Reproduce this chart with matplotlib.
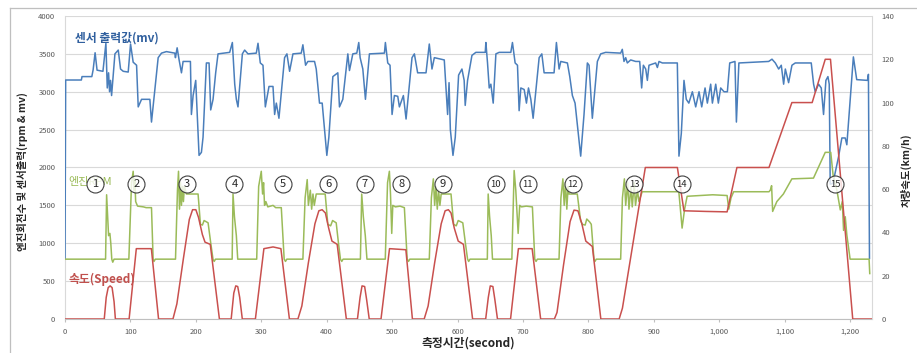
import matplotlib
matplotlib.use("Agg")
import matplotlib.pyplot as plt
from matplotlib.lines import Line2D
from matplotlib.ticker import FuncFormatter, MultipleLocator

plt.rcParams['font.family'] = ['Noto Sans CJK KR', 'DejaVu Sans']

# ---------------- data ----------------
# sensor output (mV), left axis
sensor_time = [0, 1, 25, 26, 41, 43, 46, 49, 58, 62.5, 64.6, 66.6, 68.1, 69.6, 71.2, 76.3, 81.4, 84.9, 89, 96.6,
               100.2, 104.2, 109.4, 111.9, 117, 129.7, 132.2, 135.8, 142.4, 147.5, 155, 167.8, 168.8, 171.4, 174.4, 178,
               180.5, 191.7, 193.2, 195.8, 199.8, 204.9, 208.5, 211, 216.1, 220.2, 222.7, 226.3, 230.3, 233.9, 251.7,
               255.8, 257.8, 259.4, 261.9, 264.4, 271.1, 274.6, 279.7, 292.4, 295, 298.5, 302.6, 306.2, 311.8, 317.9,
               320.4, 323, 327, 335.6, 339.2, 343.3, 348.4, 361.1, 363.6, 367.7, 371.2, 381.4, 384, 389, 393.1, 400.2,
               403.3, 409.4, 417, 419.5, 424.6, 432.3, 434.8, 439.9, 446, 449, 451.1, 455.2, 459.2, 465.3, 488.2, 489.7,
               493.3, 496.8, 499.9, 503.5, 508.6, 511.1, 517.2, 521.3, 530.4, 534, 539, 551.8, 556.8, 560.9, 564.5,
               579.7, 584.8, 587, 589, 593, 596.5, 601.6, 606.7, 610.1, 611.7, 615.3, 622, 628, 642.3, 643.3, 645.8,
               648.4, 650.9, 654.5, 658.6, 663.6, 681.4, 683.9, 688, 691.6, 694.1, 696.7, 701.8, 705.3, 708.4, 712,
               715.5, 724.7, 728.8, 732.3, 747.5, 751.1, 755.2, 757.8, 767.9, 771.5, 775.5, 779.6, 788.2, 793.3, 798.4,
               801, 806, 813.7, 818.8, 826.4, 849.3, 851.8, 854.4, 857, 859.5, 864.6, 872.3, 878.4, 881.4, 884, 887.6,
               890.1, 892.6, 902.8, 905.4, 907.9, 913, 935.9, 938.4, 942, 946.1, 949.6, 953.5, 958.9, 964, 969.1, 973.2,
               978.3, 981.8, 986.9, 989.5, 994.6, 998.6, 1002.2, 1007.3, 1012.4, 1016, 1024, 1026.2, 1030, 1075.5,
               1080.6, 1085.7, 1090.8, 1094.8, 1098.4, 1101, 1106, 1111.1, 1116.2, 1140.6, 1144.2, 1146.7, 1151.8,
               1155.9, 1159.4, 1163, 1166.1, 1168.1, 1169.6, 1173.7, 1182.3, 1187.4, 1192.5, 1195, 1198.9, 1202.5,
               1205, 1210.1, 1226.5, 1228, 1229.6]
sensor_mv = [800, 3155, 3155, 3200, 3200, 3290, 3515, 3285, 3270, 3640, 3050, 3250, 3000, 3150, 2950, 3500, 3550, 3300,
             3270, 3260, 3630, 3390, 3350, 2800, 2900, 2900, 2600, 2900, 3450, 3510, 3530, 3510, 3450, 3580, 3420, 3250,
             3400, 3400, 2700, 2950, 3150, 2160, 2200, 2400, 3380, 3380, 2760, 2900, 3250, 3500, 3520, 3650, 3350, 3100,
             2900, 2800, 3500, 3550, 3500, 3510, 3640, 3380, 3350, 2800, 3070, 3070, 2700, 2850, 2650, 3450, 3500, 3270,
             3500, 3510, 3620, 3350, 3400, 3400, 3300, 2850, 2850, 2160, 2400, 3200, 3250, 2800, 2900, 3500, 3280, 3500,
             3510, 3650, 3450, 3300, 2900, 3500, 3510, 3650, 3380, 3350, 2700, 2950, 2940, 2800, 2950, 2640, 3450, 3500,
             3250, 3250, 3630, 3300, 3450, 3420, 2700, 3120, 2500, 2160, 2400, 3220, 3300, 3150, 2820, 3150, 3480, 3520,
             3520, 3650, 3380, 3050, 3100, 2850, 3500, 3520, 3520, 3650, 3380, 3350, 2750, 3050, 3030, 2850, 3050, 2900,
             2650, 3450, 3500, 3250, 3250, 3650, 3300, 3400, 3380, 3200, 2950, 2850, 2150, 2700, 3380, 3350, 2650, 3400,
             3500, 3520, 3510, 3560, 3400, 3450, 3380, 3420, 3400, 3400, 3050, 3350, 3300, 3150, 3350, 3380, 3320, 3400,
             3380, 3380, 2150, 2450, 3150, 2900, 2850, 3000, 2800, 3000, 2800, 3050, 2850, 3100, 2850, 3100, 2850, 3050,
             3000, 3000, 3380, 3400, 2600, 3380, 3400, 3430, 3380, 3300, 3350, 3100, 3300, 3120, 3350, 3380, 3380, 3100,
             3000, 3100, 3050, 2700, 3150, 3200, 3100, 1780, 1790, 2140, 2390, 2390, 2300, 2760, 3200, 3460, 3160, 3150,
             3230, 800]

# engine speed (rpm), left axis
rpm_time = [0, 62, 63.6, 66.6, 68.6, 70, 71.5, 73, 75,
            97.6, 101.7, 104.2, 105.5, 106.7, 108, 110.9, 120, 124, 132.2, 134.7, 136, 138,
            168.9, 171.9, 173.5, 175, 176.5, 178, 179.5, 181, 182.5, 185.6, 203.4, 207, 210, 212.6, 218.7, 222.8, 226.2,
            228, 230,
            255.5, 256.8, 259, 261.9, 264,
            293, 296, 300, 302, 303.5, 305, 307, 310, 318, 322, 330.6, 335, 337, 339,
            363.6, 367, 370.2, 372, 375, 377, 379, 381, 384, 397.7, 401.7, 406, 409, 414.5, 418, 421, 423, 425,
            451.5, 453.5, 456, 459, 461.5,
            489.5, 493, 495.8, 497.5, 499.4, 501, 505, 512, 518.7, 523, 525, 527,
            556.8, 560, 563, 565, 567, 569, 571, 573, 575, 590, 594, 598, 601, 608, 612, 615.3, 617, 619,
            645.5, 646.8, 649, 651.5, 653.4,
            683, 686.5, 689, 692.6, 695, 697.6, 705, 714.4, 718, 720, 722,
            755.1, 758, 761, 763, 765, 767, 769, 770.4, 783, 788, 790.7, 795, 797.5, 802, 804.4, 808.5, 810, 812,
            849.3, 852, 855, 857, 860, 862, 865, 867, 870, 872, 875, 877.2, 882.2, 938.2, 943.2, 947, 950.9, 970, 990,
            1012, 1014.5, 1018, 1022, 1076, 1078, 1080, 1081.6, 1088, 1098, 1111, 1144, 1162, 1170.4, 1174, 1179.8,
            1185, 1188, 1190, 1192.6, 1195, 1200, 1229, 1230]
rpm_value = [790, 790, 1640, 1100, 1130, 1000, 790, 750, 790,
             790, 1800, 1950, 1700, 1850, 1550, 1490, 1480, 1470, 1470, 790, 760, 790,
             790, 1700, 1950, 1450, 1800, 1500, 1750, 1550, 1750, 1650, 1650, 1250, 1240, 1300, 1270, 1000, 790,
             760, 790,
             790, 1650, 1350, 1100, 790,
             790, 1750, 1950, 1650, 1800, 1500, 1550, 1480, 1500, 1470, 1470, 790, 760, 790,
             790, 1600, 1840, 1500, 1700, 1450, 1650, 1500, 1650, 1650, 1250, 1230, 1300, 1270, 1000, 790, 760, 790,
             790, 1650, 1350, 1100, 790,
             790, 1800, 1950, 1650, 1130, 1500, 1480, 1490, 1470, 790, 760, 790,
             790, 1600, 1850, 1500, 1750, 1450, 1700, 1500, 1650, 1650, 1250, 1230, 1300, 1270, 1000, 790, 760, 790,
             790, 1650, 1350, 1100, 790,
             790, 1960, 1700, 1130, 1500, 1480, 1490, 1480, 790, 760, 790,
             790, 1600, 1850, 1500, 1800, 1450, 1750, 1650, 1650, 1300, 1250, 1240, 1320, 1280, 1250, 790, 760, 790,
             790, 1600, 1850, 1500, 1800, 1450, 1750, 1480, 1800, 1500, 1700, 1550, 1680, 1680, 1200, 1450, 1620, 1630,
             1640, 1630, 1450, 1600, 1680, 1680, 1700, 1760, 1420, 1550, 1650, 1850, 1860, 2200, 2200, 1900, 1700,
             1440, 1550, 1170, 1350, 1110, 790, 790, 600]

# vehicle speed (km/h), right axis
speed_time = [0, 60, 63, 66, 69, 72, 75, 77,
              98, 109, 132, 143,
              165, 171, 181, 190, 195, 200, 204, 210, 214, 222, 236,
              254, 258, 261, 264, 267, 271,
              291, 304, 318, 330, 343,
              356, 362, 372, 382, 388, 393, 398, 403, 408, 416, 430,
              447, 451, 454, 458, 461, 465,
              483, 496, 521, 531,
              549, 555, 565, 575, 581, 586, 590, 595, 601, 609, 623,
              643, 647, 650, 654, 657, 661,
              681, 693, 714, 727,
              748, 752, 762, 772, 778, 784, 790, 796, 800, 806, 819,
              847, 852, 887, 936, 946, 980, 1012, 1027, 1076, 1111, 1142, 1162, 1170, 1204, 1233]
speed_kmh = [0, 0, 10, 14.5, 15.3, 14.5, 8, 0,
             0, 32.5, 32.5, 0,
             0, 7, 28, 46, 50.5, 50.5, 47, 39, 35.5, 34.5, 0,
             0, 12, 15.3, 15, 10, 0,
             0, 32.5, 33.3, 32.5, 0,
             0, 6, 26, 44, 50, 50.5, 49, 42, 36, 34.5, 0,
             0, 10, 15.3, 15, 9, 0,
             0, 32.5, 32, 0,
             0, 6, 26, 44, 50, 50.5, 49, 42, 36, 34.5, 0,
             0, 10, 15.3, 15, 9, 0,
             0, 32.5, 32.5, 0,
             0, 3, 25, 45, 50.3, 50, 44, 36, 35, 33.5, 0,
             0, 5, 70, 70, 50, 49.7, 49.5, 70, 70, 100, 100, 120, 120, 0, 0]

# circled test-section numbers
section_labels = ['1', '2', '3', '4', '5', '6', '7', '8', '9', '10', '11', '12', '13', '14', '15']
section_time = [46, 109, 186, 259, 333, 402, 458, 514, 577, 658, 707, 776, 870, 943, 1177]
section_level = 1782

x_ticks = list(range(0, 1201, 100))

# ---------------- figure ----------------
W, H = 917, 353
fig = plt.figure(figsize=(W / 100, H / 100), dpi=100)
fig.patch.set_facecolor('white')

# outer chart frame
frame_kw = dict(transform=fig.transFigure, color='#bfbfbf', lw=0.9)
fig.add_artist(Line2D([10 / W, 10 / W], [1 - 8 / H, 0], **frame_kw))
fig.add_artist(Line2D([10 / W, 1], [1 - 8 / H, 1 - 8 / H], **frame_kw))

left_px, right_px, top_px, bot_px = 65, 871.7, 16, 319
ax = fig.add_axes([left_px / W, 1 - bot_px / H, (right_px - left_px) / W, (bot_px - top_px) / H])
ax2 = ax.twinx()

blue = '#4a7ebb'
green = '#9bbb59'
red = '#c9504e'
tick_col = '#595959'

ax.plot(sensor_time, sensor_mv, color=blue, lw=1.1, zorder=3)
ax.plot(rpm_time, rpm_value, color=green, lw=1.1, zorder=4)
ax2.plot(speed_time, speed_kmh, color=red, lw=1.1, zorder=3)

ax.set_xlim(0, 1233)
ax.set_ylim(0, 4000)
ax2.set_ylim(0, 140)
ax.yaxis.set_major_locator(MultipleLocator(500))
ax2.yaxis.set_major_locator(MultipleLocator(20))
ax.set_xticks(x_ticks)
ax.xaxis.set_major_formatter(FuncFormatter(lambda v, p: f'{int(v):,}'))

ax.grid(axis='y', color='#d9d9d9', lw=0.8)
ax.set_axisbelow(True)

for a in (ax, ax2):
    for s in a.spines.values():
        s.set_visible(False)
ax.spines['bottom'].set_visible(True)
ax.spines['bottom'].set_color('#bfbfbf')
ax2.spines['right'].set_visible(True)
ax2.spines['right'].set_color('#d9d9d9')
ax.spines['left'].set_visible(True)
ax.spines['left'].set_color('#d9d9d9')

ax.tick_params(axis='y', length=0, pad=7, labelsize=5.5, labelcolor=tick_col)
ax.tick_params(axis='x', length=2.5, color='#bfbfbf', pad=4, labelsize=5.5, labelcolor=tick_col)
ax2.tick_params(axis='y', length=0, pad=7, labelsize=5.5, labelcolor=tick_col)

# series captions
ax2.text(15, 3709, '센서 출력값(mv)', transform=ax.transData, color='#2f5f9e', fontsize=8.5,
         fontweight='bold', va='center', ha='left', zorder=6)
ax2.text(5, 1812, '엔진RPM', transform=ax.transData, color=green, fontsize=8,
         va='center', ha='left', zorder=6)
ax2.text(5, 524, '속도(Speed)', transform=ax.transData, color='#c0504d', fontsize=8.5,
         fontweight='bold', va='center', ha='left', zorder=6)

# circled section markers
ax2.scatter(section_time, [section_level] * len(section_time), transform=ax.transData, s=150,
            facecolor=(1, 1, 1, 0.8), edgecolor='#404040', linewidth=0.8, zorder=7)
for lab, t in zip(section_labels, section_time):
    ax2.text(t, section_level, lab, transform=ax.transData, ha='center', va='center',
             fontsize=8 if len(lab) == 1 else 6.8, color='#262626', zorder=8)

# axis titles
fig.text(22 / W, 1 - 172 / H, '엔진회전수 및 센서출력(rpm & mv)', rotation=90, ha='center', va='center',
         fontsize=7.5, fontweight='bold', color='#262626')
fig.text(906 / W, 1 - 170 / H, '차량속도(km/h)', rotation=90, ha='center', va='center',
         fontsize=7.5, fontweight='bold', color='#262626')
fig.text(468 / W, 1 - 343 / H, '측정시간(second)', ha='center', va='center',
         fontsize=8.5, fontweight='bold', color='#262626')

fig.savefig('out.png', dpi=100, facecolor='white')
